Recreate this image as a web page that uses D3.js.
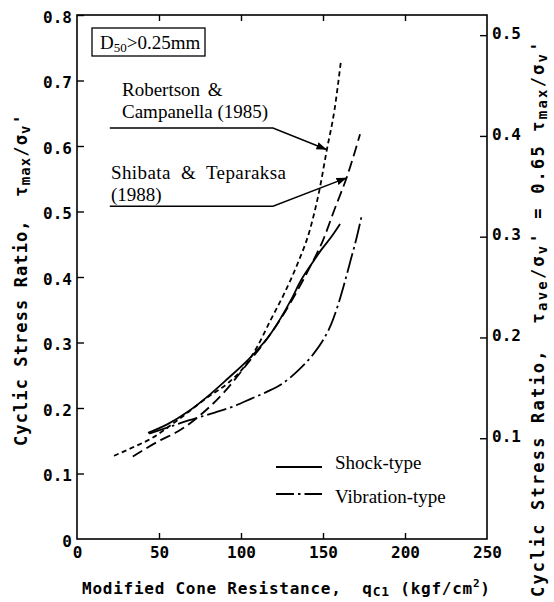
<!DOCTYPE html>
<html><head><meta charset="utf-8">
<script src="https://cdn.jsdelivr.net/npm/d3@7"></script>
<style>
body{margin:0;background:#fff;}
svg{display:block;}
text{white-space:pre;}
</style></head>
<body>
<script>
// ---- data ----
const xTicks = [0, 50, 100, 150, 200, 250];
const xInnerTicks = [50, 100, 150, 200];
const yTicks = [0, 0.1, 0.2, 0.3, 0.4, 0.5, 0.6, 0.7, 0.8];
const yRightTicks = [0.1, 0.2, 0.3, 0.4, 0.5];
const ratioAveToMax = 0.65;

const robertsonQ = [22.6, 35, 45, 60, 80, 92, 102, 110, 118, 126.4, 134.6, 142, 148, 152.4, 157, 161];
const robertsonR = [0.127, 0.141, 0.153, 0.179, 0.217, 0.238, 0.263, 0.294, 0.334, 0.375, 0.421, 0.472, 0.535, 0.595, 0.655, 0.731];

const shibataQ = [34, 51, 61.4, 75.6, 90, 104, 118, 130.5, 142, 150, 157, 165, 172.6];
const shibataR = [0.126, 0.151, 0.164, 0.19, 0.225, 0.268, 0.313, 0.362, 0.415, 0.456, 0.503, 0.556, 0.618];

const shockQ = [43.3, 55, 68, 81.7, 92, 104.1, 118.3, 130.5, 136.6, 144.7, 148.8, 155, 160.4];
const shockR = [0.162, 0.175, 0.195, 0.222, 0.245, 0.273, 0.314, 0.365, 0.395, 0.426, 0.441, 0.461, 0.481];

const vibrationQ = [44, 55, 68, 84, 96, 106, 116, 124.4, 136, 144, 150.6, 155, 159, 163, 167, 170.5, 173.8];
const vibrationR = [0.161, 0.170, 0.181, 0.193, 0.203, 0.214, 0.225, 0.236, 0.260, 0.282, 0.306, 0.328, 0.356, 0.39, 0.427, 0.46, 0.496];

const legendLabels = ["Shock-type", "Vibration-type"];
const robertsonLabel = ["Robertson &", "Campanella (1985)"];
const shibataLabel = ["Shibata & Teparaksa", "(1988)"];
const robertsonLeader = [[20, 0.6275], [119.5, 0.6275], [151.8, 0.595]];
const shibataLeader = [[20, 0.508], [119.5, 0.508], [164, 0.551]];

// ---- layout ----
const W = 554, H = 602;
const svg = d3.select("body").append("svg").attr("width", W).attr("height", H);
const x = d3.scaleLinear().domain([0, 250]).range([77, 487]);
const y = d3.scaleLinear().domain([0, 0.8]).range([539, 15]);
const yR = d3.scaleLinear().domain([0, 0.8 * ratioAveToMax]).range([539, 15]);

const mono = "'DejaVu Sans Mono', monospace";
const serif = "'Liberation Serif', 'Times New Roman', serif";

// frame
svg.append("rect").attr("x", x(0)).attr("y", y(0.8)).attr("width", x(250) - x(0)).attr("height", y(0) - y(0.8))
  .attr("fill", "none").attr("stroke", "#000").attr("stroke-width", 1.6);

function styleAxis(g) {
  g.select(".domain").remove();
  g.selectAll(".tick line").attr("stroke", "#000").attr("stroke-width", 1.4);
  g.selectAll(".tick text").attr("fill", "#000").attr("font-family", mono).attr("font-size", 16).attr("font-weight", "bold");
}

// bottom axis
svg.append("g").attr("transform", `translate(0,${y(0)})`)
  .call(d3.axisBottom(x).tickValues(xTicks).tickSizeInner(-6).tickSizeOuter(0).tickPadding(8).tickFormat(d3.format("d")))
  .call(styleAxis)
  .call(g => g.selectAll(".tick line").filter(d => !xInnerTicks.includes(d)).remove());
// top axis (ticks only)
svg.append("g").attr("transform", `translate(0,${y(0.8)})`)
  .call(d3.axisTop(x).tickValues(xInnerTicks).tickSizeInner(-6).tickSizeOuter(0).tickFormat(""))
  .call(styleAxis);
// left axis
svg.append("g").attr("transform", `translate(${x(0)},0)`)
  .call(d3.axisLeft(y).tickValues(yTicks).tickSizeInner(-7).tickSizeOuter(0).tickPadding(5)
    .tickFormat(d => d === 0 ? "0" : d3.format(".1f")(d)))
  .call(styleAxis)
  .call(g => g.selectAll(".tick text").attr("dy", "0.45em"))
  .call(g => g.selectAll(".tick line").filter(d => d === 0).remove());
// right axis
svg.append("g").attr("transform", `translate(${x(250)},0)`)
  .call(d3.axisRight(yR).tickValues(yRightTicks).tickSizeInner(-7).tickSizeOuter(0).tickPadding(5).tickFormat(d3.format(".1f")))
  .call(styleAxis)
  .call(g => g.selectAll(".tick text").attr("dy", "0.2em"));

// curves
const line = d3.line().x(d => x(d[0])).y(d => y(d[1])).curve(d3.curveMonotoneX);
const zip = (a, b) => a.map((v, i) => [v, b[i]]);
const series = [
  {q: robertsonQ, r: robertsonR, dash: "5,3.5"},
  {q: shibataQ, r: shibataR, dash: "11,5"},
  {q: shockQ, r: shockR, dash: null},
  {q: vibrationQ, r: vibrationR, dash: "20,4,2.5,4"}
];
series.forEach(s => {
  svg.append("path").attr("d", line(zip(s.q, s.r))).attr("fill", "none").attr("stroke", "#000")
    .attr("stroke-width", 1.8).attr("stroke-dasharray", s.dash);
});

// arrow marker
svg.append("defs").append("marker").attr("id", "arr").attr("viewBox", "0 0 10 10").attr("refX", 9).attr("refY", 5)
  .attr("markerWidth", 7).attr("markerHeight", 7).attr("orient", "auto")
  .append("path").attr("d", "M0,1.5 L10,5 L0,8.5 Z").attr("fill", "#000");

const lead = d3.line().x(d => x(d[0])).y(d => y(d[1]));
[robertsonLeader, shibataLeader].forEach(p => {
  svg.append("path").attr("d", lead(p)).attr("fill", "none").attr("stroke", "#000").attr("stroke-width", 1.5)
    .attr("marker-end", "url(#arr)");
});

// annotation text
function serifText(txt, px, py, size) {
  return svg.append("text").attr("x", px).attr("y", py).attr("font-family", serif).attr("font-size", size || 19)
    .attr("fill", "#000").text(txt);
}
serifText(robertsonLabel[0], 122, 96).attr("word-spacing", 3);
serifText(robertsonLabel[1], 122, 118);
serifText(shibataLabel[0], 111, 179).attr("word-spacing", 5).attr("letter-spacing", 0.4);
serifText(shibataLabel[1], 111, 201);

// D50 box
svg.append("rect").attr("x", 92).attr("y", 28).attr("width", 113).attr("height", 28)
  .attr("fill", "none").attr("stroke", "#000").attr("stroke-width", 1.3);
const dt = svg.append("text").attr("x", 100).attr("y", 49).attr("font-family", serif).attr("font-size", 19).attr("fill", "#000");
dt.append("tspan").text("D");
dt.append("tspan").attr("font-size", 13).attr("dy", 3).text("50");
dt.append("tspan").attr("dy", -3).text(">0.25mm");

// legend
const legY = [467, 494];
const legDash = [null, "18,4,2.5,4"];
legendLabels.forEach((lab, i) => {
  svg.append("line").attr("x1", 276).attr("x2", 322).attr("y1", legY[i]).attr("y2", legY[i])
    .attr("stroke", "#000").attr("stroke-width", 1.8).attr("stroke-dasharray", legDash[i]);
});
serifText(legendLabels[0], 335, 469);
serifText(legendLabels[1], 335, 503);

// axis titles
const xt = svg.append("text").attr("x", 82).attr("y", 594).attr("font-family", mono).attr("font-size", 16)
  .attr("font-weight", "bold").attr("letter-spacing", 0.75).attr("fill", "#000");
xt.append("tspan").text("Modified Cone Resistance,  q");
xt.append("tspan").attr("font-size", 13).attr("dy", 2).text("C1");
xt.append("tspan").attr("dy", -2).text(" (kgf/cm");
xt.append("tspan").attr("font-size", 11).attr("dy", -7).text("2");
xt.append("tspan").attr("dy", 7).text(")");

function sub(t, s) { t.append("tspan").attr("font-size", 14).attr("dy", 3).text(s); }
function unsub(t, s) { t.append("tspan").attr("dy", -3).text(s); }

const lt = svg.append("text").attr("transform", "translate(27,446) rotate(-90)").attr("font-family", mono)
  .attr("font-size", 17).attr("font-weight", "bold").attr("letter-spacing", 1.1).attr("fill", "#000");
lt.append("tspan").text("Cyclic Stress Ratio,  τ");
sub(lt, "max"); unsub(lt, "/σ"); sub(lt, "v"); unsub(lt, "'");

const rt = svg.append("text").attr("transform", "translate(544,597) rotate(-90)").attr("font-family", mono)
  .attr("font-size", 17).attr("font-weight", "bold").attr("letter-spacing", 2.2).attr("fill", "#000");
rt.append("tspan").text("Cyclic Stress Ratio,  τ");
sub(rt, "ave"); unsub(rt, "/σ"); sub(rt, "v"); unsub(rt, "' = 0.65 τ");
sub(rt, "max"); unsub(rt, "/σ"); sub(rt, "v"); unsub(rt, "'");
</script>
</body></html>
